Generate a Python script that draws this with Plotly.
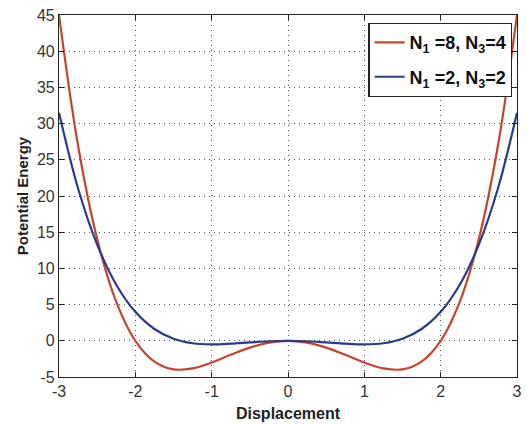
import plotly.graph_objects as go

# Displacement samples and potential energy of each oscillator
displacement = [-3.0, -2.75, -2.5, -2.25, -2.0, -1.75, -1.5, -1.25, -1.0, -0.75, -0.5, -0.25,
                0.0, 0.25, 0.5, 0.75, 1.0, 1.25, 1.5, 1.75, 2.0, 2.25, 2.5, 2.75, 3.0]
energy_n8_n4 = [45.0, 26.94, 14.06, 5.38, 0.0, -2.87, -3.94, -3.81, -3.0, -1.93, -0.94, -0.25,
                0.0, -0.25, -0.94, -1.93, -3.0, -3.81, -3.94, -2.87, 0.0, 5.38, 14.06, 26.94, 45.0]
energy_n2_n2 = [31.5, 21.03, 13.28, 7.75, 4.0, 1.63, 0.28, -0.34, -0.5, -0.40, -0.22, -0.06,
                0.0, -0.06, -0.22, -0.40, -0.5, -0.34, 0.28, 1.63, 4.0, 7.75, 13.28, 21.03, 31.5]

x_ticks = [-3, -2, -1, 0, 1, 2, 3]
x_tick_labels = ["-3", "-2", "-1", "0", "1", "2", "3"]
y_ticks = [-5, 0, 5, 10, 15, 20, 25, 30, 35, 40, 45]
y_tick_labels = ["-5", "0", "5", "10", "15", "20", "25", "30", "35", "40", "45"]

fig = go.Figure()
fig.add_trace(go.Scatter(
    x=displacement, y=energy_n8_n4, mode="lines", line_shape="spline",
    line=dict(color="#c8432c", width=2.2), legendgroup="a",
    name="<b>N<sub>1</sub> =8, N<sub>3</sub>=4</b>"))
fig.add_trace(go.Scatter(
    x=displacement, y=energy_n2_n2, mode="lines", line_shape="spline",
    line=dict(color="#2b3a8c", width=2.2), legendgroup="b",
    name="<b>N<sub>1</sub> =2, N<sub>3</sub>=2</b>"))

axis_common = dict(
    showline=True, linecolor="#222", linewidth=1.2, mirror="ticks",
    ticks="inside", ticklen=5, tickcolor="#222",
    showgrid=True, gridcolor="#555", griddash="1px,4px", gridwidth=1,
    zeroline=False,
    tickfont=dict(family="Liberation Sans, Arial", size=16, color="#333"),
)

fig.update_xaxes(range=[-3, 3], tickvals=x_ticks, ticktext=x_tick_labels, **axis_common,
                 title=dict(text="<b>Displacement</b>", standoff=8,
                            font=dict(family="Liberation Sans, Arial", size=16, color="#222")))
fig.update_yaxes(range=[-5, 45], tickvals=y_ticks, ticktext=y_tick_labels, **axis_common,
                 title=dict(text="<b>Potential Energy</b>", standoff=4,
                            font=dict(family="Liberation Sans, Arial", size=15, color="#222")))

fig.update_layout(
    width=527, height=424,
    margin=dict(l=59, r=5, t=15, b=47),
    paper_bgcolor="white", plot_bgcolor="white",
    showlegend=True,
    legend=dict(x=0.99, y=0.978, xanchor="right", yanchor="top",
                bgcolor="white", bordercolor="#222", borderwidth=1.2,
                font=dict(family="Liberation Sans, Arial", size=18, color="#111"),
                itemwidth=30, tracegroupgap=8),
)

fig.write_html("out.html")
